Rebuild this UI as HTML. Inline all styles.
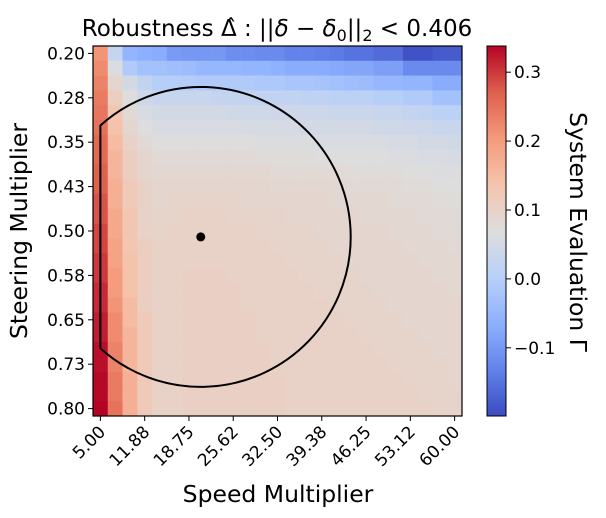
<!DOCTYPE html>
<html><head><meta charset="utf-8"><style>
body{margin:0;background:#fff;}
svg text{font-family:"DejaVu Sans","Liberation Sans",sans-serif;fill:#000;}
</style></head><body>
<svg id="chart" width="606" height="518" viewBox="0 0 606 518" style="position:absolute;left:0;top:0">
<g id="cells"></g>
<g id="overlay"></g>
<g id="axes"></g>
<text x="277" y="36" font-size="23" text-anchor="middle">Robustness <tspan>Δ̂</tspan> : ||<tspan font-style="italic">δ</tspan> − <tspan font-style="italic">δ</tspan><tspan font-size="16" dy="5">0</tspan><tspan dy="-5">||</tspan><tspan font-size="16" dy="5">2</tspan><tspan dy="-5"> &lt; 0.406</tspan></text>
<text x="278" y="502" font-size="23.5" text-anchor="middle">Speed Multiplier</text>
<text x="0" y="0" font-size="23.5" text-anchor="middle" transform="translate(27 231) rotate(-90)">Steering Multiplier</text>
<text x="0" y="0" font-size="23.5" text-anchor="middle" transform="translate(570 232) rotate(90)">System Evaluation Γ</text>
</svg>
<script>
const xTickLabels=["5.00","11.88","18.75","25.62","32.50","39.38","46.25","53.12","60.00"];
const yTickLabels=["0.20","0.28","0.35","0.43","0.50","0.58","0.65","0.73","0.80"];
const cbTicks=[-0.1,0.0,0.1,0.2,0.3];
const cbTickLabels=["\u22120.1","0.0","0.1","0.2","0.3"];
const vmin=-0.199, vmax=0.338;
const center=[7.3,12.9];
const radiusCells=10.16;
const values=[
[.21,.027,-.054,-.065,-.07,-.095,-.1,-.1,-.1,-.115,-.115,-.12,-.12,-.13,-.13,-.135,-.14,-.15,-.15,-.16,-.16,-.19,-.19,-.18,-.18],
[.22,.065,-.01,-.03,-.03,-.035,-.04,-.05,-.05,-.05,-.055,-.055,-.06,-.07,-.07,-.07,-.075,-.08,-.08,-.09,-.09,-.12,-.12,-.12,-.12],
[.23,.09,.05,.02,0,0,-.005,-.01,-.01,-.01,-.01,-.015,-.015,-.02,-.02,-.025,-.03,-.035,-.04,-.05,-.05,-.055,-.055,-.07,-.07],
[.24,.11,.07,.04,.03,.03,.03,.03,.025,.025,.025,.02,.02,.02,.015,.015,.01,.01,.01,0,0,-.01,-.01,-.03,-.03],
[.245,.13,.08,.06,.05,.05,.05,.05,.05,.045,.045,.045,.04,.04,.04,.04,.035,.035,.035,.03,.03,.025,.02,.01,.01],
[.25,.14,.09,.07,.06,.06,.06,.06,.06,.06,.055,.055,.055,.055,.05,.05,.05,.05,.05,.045,.045,.04,.04,.03,.03],
[.26,.15,.10,.08,.07,.07,.07,.07,.07,.07,.07,.065,.065,.065,.065,.06,.06,.06,.06,.06,.055,.055,.05,.05,.045],
[.26,.16,.11,.09,.08,.08,.08,.08,.08,.08,.08,.075,.075,.075,.075,.07,.07,.07,.07,.07,.065,.065,.06,.06,.055],
[.27,.16,.11,.09,.085,.085,.085,.085,.085,.085,.085,.085,.08,.08,.08,.08,.08,.075,.075,.075,.075,.07,.07,.065,.065],
[.27,.17,.12,.10,.09,.09,.09,.09,.09,.09,.09,.09,.085,.085,.085,.085,.085,.08,.08,.08,.08,.075,.075,.07,.07],
[.28,.17,.12,.10,.09,.095,.095,.095,.095,.095,.09,.09,.09,.09,.09,.09,.085,.085,.085,.085,.08,.08,.08,.075,.075],
[.28,.18,.13,.10,.095,.095,.1,.1,.1,.095,.095,.095,.095,.09,.09,.09,.09,.09,.085,.085,.085,.085,.08,.08,.08],
[.29,.18,.13,.10,.095,.1,.1,.1,.1,.1,.1,.095,.095,.095,.095,.09,.09,.09,.09,.09,.085,.085,.085,.08,.08],
[.29,.19,.13,.11,.1,.1,.1,.1,.1,.1,.1,.1,.095,.095,.095,.095,.09,.09,.09,.09,.09,.085,.085,.085,.08],
[.30,.19,.14,.11,.1,.1,.1,.1,.1,.1,.1,.1,.1,.095,.095,.095,.095,.09,.09,.09,.09,.09,.085,.085,.085],
[.30,.20,.14,.11,.1,.1,.105,.105,.105,.1,.1,.1,.1,.1,.095,.095,.095,.095,.09,.09,.09,.09,.09,.085,.085],
[.31,.20,.14,.11,.1,.1,.105,.105,.105,.105,.1,.1,.1,.1,.1,.095,.095,.095,.095,.09,.09,.09,.09,.09,.085],
[.31,.21,.15,.11,.1,.1,.105,.105,.105,.105,.1,.1,.1,.1,.1,.1,.095,.095,.095,.095,.09,.09,.09,.09,.09],
[.32,.22,.15,.12,.1,.1,.105,.105,.105,.105,.105,.1,.1,.1,.1,.1,.1,.095,.095,.095,.095,.09,.09,.09,.09],
[.32,.22,.16,.12,.1,.1,.105,.105,.105,.105,.105,.1,.1,.1,.1,.1,.1,.1,.095,.095,.095,.095,.09,.09,.09],
[.33,.23,.16,.12,.1,.1,.105,.105,.105,.105,.105,.105,.1,.1,.1,.1,.1,.1,.1,.095,.095,.095,.095,.09,.09],
[.33,.23,.16,.12,.1,.1,.105,.105,.105,.105,.105,.105,.1,.1,.1,.1,.1,.1,.1,.1,.095,.095,.095,.095,.09],
[.335,.24,.17,.12,.1,.1,.105,.105,.105,.105,.105,.105,.105,.1,.1,.1,.1,.1,.1,.1,.1,.095,.095,.095,.09],
[.335,.24,.17,.12,.1,.1,.105,.105,.105,.105,.105,.105,.105,.1,.1,.1,.1,.1,.1,.1,.1,.1,.095,.095,.095],
[.338,.25,.17,.12,.1,.1,.105,.105,.105,.105,.105,.105,.105,.1,.1,.1,.1,.1,.1,.1,.1,.1,.1,.095,.095]
];
const NS="http://www.w3.org/2000/svg";
const L=93,T=46,W=369,H=370,N=25;
const cw=W/N, ch=H/N;
const xPos=c=>L+c*cw, yPos=r=>T+r*ch;
const cmapStops=[[59,76,192],[98,130,234],[141,176,254],[184,208,249],[221,221,221],[245,196,173],[244,154,123],[222,96,77],[180,4,38]];
function cmap(v){let t=(v-vmin)/(vmax-vmin);t=Math.max(0,Math.min(1,t));const s=t*8;const i=Math.min(7,Math.floor(s));const f=s-i;const a=cmapStops[i],b=cmapStops[i+1];return `rgb(${Math.round(a[0]+(b[0]-a[0])*f)},${Math.round(a[1]+(b[1]-a[1])*f)},${Math.round(a[2]+(b[2]-a[2])*f)})`;}
function mk(tag,attrs,parent){const e=document.createElementNS(NS,tag);for(const k in attrs)e.setAttribute(k,attrs[k]);parent.appendChild(e);return e;}
const cells=document.getElementById('cells'),ov=document.getElementById('overlay'),ax=document.getElementById('axes');
values.forEach((row,r)=>row.forEach((v,c)=>{const e=mk('rect',{x:xPos(c)-0.01,y:yPos(r)-0.01,width:cw+0.3,height:ch+0.3,fill:cmap(v)},cells);

}));
const cxp=xPos(center[0]), cy=yPos(center[1]), rp=radiusCells*cw;
const clipX=xPos(0.5);
const dy=Math.sqrt(Math.max(0,rp*rp-(cxp-clipX)**2));
const circ=mk('path',{d:`M${clipX},${cy-dy} A${rp},${rp} 0 1 1 ${clipX},${cy+dy} Z`,fill:'none',stroke:'#000','stroke-width':2},ov);


const dot=mk('circle',{cx:cxp,cy:cy,r:4.5,fill:'#000'},ov);


const fr=mk('rect',{x:L,y:T,width:W,height:H,fill:'none',stroke:'#000','stroke-width':1.2},ax);


xTickLabels.forEach((lab,i)=>{const x=xPos(i*3+0.5);mk('line',{x1:x,y1:T+H,x2:x,y2:T+H+5,stroke:'#000'},ax);
const t=mk('text',{x:x+6,y:T+H+17,'font-size':17,'text-anchor':'end',transform:`rotate(-45 ${x+6} ${T+H+17})`},ax);t.textContent=lab;

});
yTickLabels.forEach((lab,i)=>{const y=yPos(i*3+0.5);mk('line',{x1:L-5,y1:y,x2:L,y2:y,stroke:'#000'},ax);
const t=mk('text',{x:L-8,y:y+6,'font-size':17,'text-anchor':'end'},ax);t.textContent=lab;

});
const CL=487,CW=19;
for(let k=0;k<H;k++){const v=vmax-(k+0.5)/H*(vmax-vmin);mk('rect',{x:CL,y:T+k,width:CW,height:1.2,fill:cmap(v)},ax);}
const cbf=mk('rect',{x:CL,y:T,width:CW,height:H,fill:'none',stroke:'#000','stroke-width':1},ax);


cbTicks.forEach((v,i)=>{const y=T+(vmax-v)/(vmax-vmin)*H;mk('line',{x1:CL+CW,y1:y,x2:CL+CW+5,y2:y,stroke:'#000'},ax);
const t=mk('text',{x:CL+CW+8,y:y+6,'font-size':17},ax);t.textContent=cbTickLabels[i];

});
</script>
</body></html>
